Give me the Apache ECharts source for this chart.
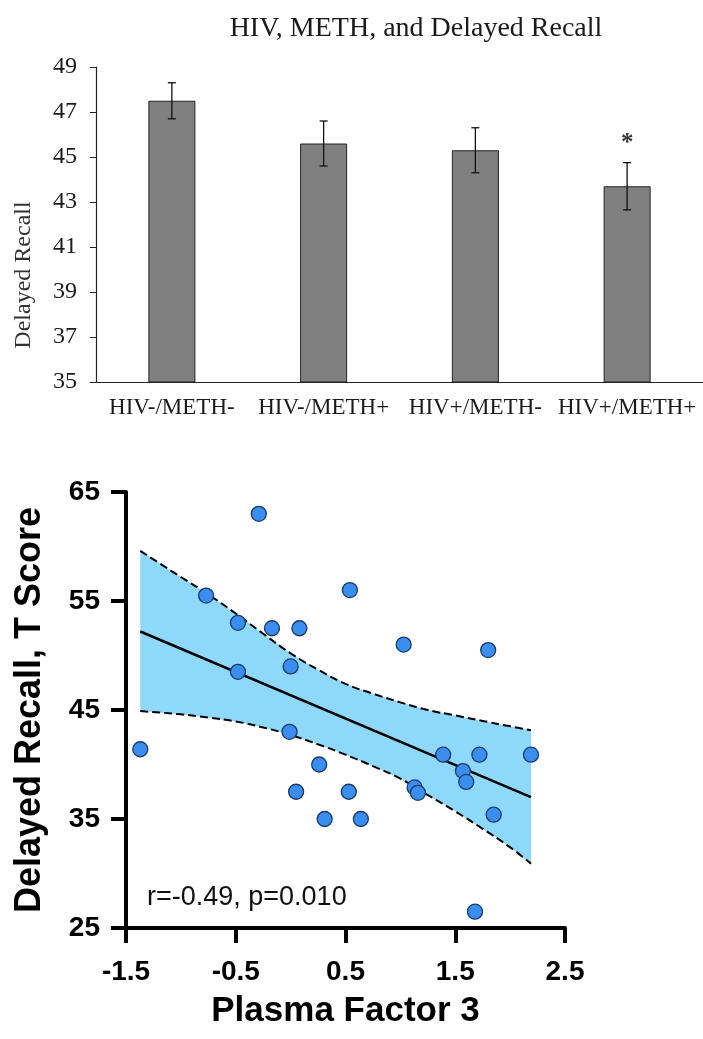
<!DOCTYPE html>
<html>
<head>
<meta charset="utf-8">
<script src="https://cdn.jsdelivr.net/npm/echarts@6/dist/echarts.min.js"></script>
<style>
  html, body { margin: 0; padding: 0; background: #fff; }
  #chart { width: 703px; height: 1039px; }
</style>
</head>
<body>
<div id="chart"></div>
<script>
// top panel: group means with error bars
const groups = ['HIV-/METH-', 'HIV-/METH+', 'HIV+/METH-', 'HIV+/METH+']
const recallMeans = [47.5, 45.6, 45.3, 43.7]
const recallErrors = [0.8, 1.0, 1.0, 1.05]
const sigMarks = ['', '', '', '*']
const topTicks = [35, 49, 2]

// bottom panel: scatter with regression fit and confidence band
const factor3 = [-1.37, -0.77, -0.48, -0.48, -0.29, -0.17, 0.0, -0.01, 0.08, 0.05, 0.26, 0.31, 0.53,
  0.54, 0.64, 1.03, 1.13, 1.16, 1.39, 1.57, 1.60, 1.68, 1.72, 1.80, 1.85, 2.19]
const tScores = [41.4, 55.5, 53.0, 48.5, 63.0, 52.5, 49.0, 43.0, 52.5, 37.5, 40.0, 35.0, 37.5,
  56.0, 35.0, 51.0, 37.9, 37.4, 40.9, 39.4, 38.4, 26.5, 40.9, 50.5, 35.4, 40.9]
const fitX = [-1.37, 2.19]
const fitY = [52.2, 37.0]
const bandX = [-1.37, -1.0, -0.75, -0.5, -0.25, 0, 0.25, 0.5, 0.75, 1.0, 1.25, 1.5, 1.75, 2.0, 2.19]
const bandUpper = [59.6, 57.2, 55.6, 53.85, 52.0, 50.2, 48.7, 47.4, 46.5, 45.7, 45.0, 44.5, 44.0, 43.5, 43.15]
const bandLower = [44.9, 44.6, 44.3, 43.95, 43.4, 42.7, 41.85, 40.9, 39.85, 38.7, 37.2, 35.7, 34.1, 32.4, 30.9]
const statText = 'r=-0.49, p=0.010'

const serif = 'Liberation Serif'
const sans = 'Liberation Sans'

const chart = echarts.init(document.getElementById('chart'))

const option = {
  animation: false,
  title: {
    text: 'HIV, METH, and Delayed Recall',
    left: 411,
    textAlign: 'center',
    top: 10,
    textStyle: { fontFamily: serif, fontSize: 28, fontWeight: 'normal', color: '#1a1a1a' }
  },
  graphic: [
    {
      type: 'text',
      x: 24,
      y: 275,
      rotation: Math.PI / 2,
      style: {
        text: 'Delayed Recall',
        font: '24px "Liberation Serif"',
        fill: '#333',
        textAlign: 'center',
        textVerticalAlign: 'middle'
      }
    },
    {
      type: 'text',
      x: 147,
      y: 898,
      style: {
        text: statText,
        font: '27px "Liberation Sans"',
        fill: '#111',
        textAlign: 'left',
        textVerticalAlign: 'middle'
      }
    }
  ],
  grid: [
    { left: 96, right: 0, top: 67, height: 315 },
    { left: 126, right: 138, top: 492, height: 436 }
  ],
  xAxis: [
    {
      gridIndex: 0,
      type: 'category',
      data: groups,
      axisTick: { show: false },
      axisLine: { lineStyle: { color: '#222', width: 1.2 } },
      axisLabel: { interval: 0, fontFamily: serif, fontSize: 23, color: '#1a1a1a', margin: 14 }
    },
    {
      gridIndex: 1,
      type: 'value',
      min: -1.5,
      max: 2.5,
      interval: 1,
      name: 'Plasma Factor 3',
      nameLocation: 'middle',
      nameGap: 66,
      nameTextStyle: { fontFamily: sans, fontSize: 35, fontWeight: 'bold', color: '#000' },
      splitLine: { show: false },
      axisLine: { onZero: false, lineStyle: { color: '#000', width: 4 } },
      axisTick: { length: 15, lineStyle: { color: '#000', width: 4 } },
      axisLabel: { fontFamily: sans, fontSize: 28, fontWeight: 'bold', color: '#000', margin: 30 }
    }
  ],
  yAxis: [
    {
      gridIndex: 0,
      type: 'value',
      min: topTicks[0],
      max: topTicks[1],
      interval: topTicks[2],
      splitLine: { show: false },
      axisLine: { show: true, lineStyle: { color: '#222', width: 1.2 } },
      axisTick: { show: true, length: 6, lineStyle: { color: '#222' } },
      axisLabel: { fontFamily: serif, fontSize: 24, color: '#1a1a1a', margin: 19 }
    },
    {
      gridIndex: 1,
      type: 'value',
      min: 25,
      max: 65,
      interval: 10,
      name: 'Delayed Recall, T Score',
      nameLocation: 'middle',
      nameGap: 78,
      nameTextStyle: { fontFamily: sans, fontSize: 36, fontWeight: 'bold', color: '#000' },
      splitLine: { show: false },
      axisLine: { show: true, onZero: false, lineStyle: { color: '#000', width: 4 } },
      axisTick: { show: true, length: 15, lineStyle: { color: '#000', width: 4 } },
      axisLabel: { fontFamily: sans, fontSize: 28, fontWeight: 'bold', color: '#000', margin: 26 }
    }
  ],
  series: [
    {
      type: 'bar',
      xAxisIndex: 0,
      yAxisIndex: 0,
      data: recallMeans,
      barWidth: 47,
      itemStyle: { color: '#808080', borderColor: '#222', borderWidth: 1 }
    },
    {
      type: 'custom',
      xAxisIndex: 0,
      yAxisIndex: 0,
      data: groups.map((g, i) => [i, recallMeans[i], recallErrors[i]]),
      encode: { x: 0, y: 1 },
      z: 5,
      renderItem: function (params, api) {
        const i = api.value(0)
        const m = api.value(1)
        const e = api.value(2)
        const hi = api.coord([i, m + e])
        const lo = api.coord([i, m - e])
        const cap = 4
        const st = { stroke: '#111', lineWidth: 1.3 }
        const children = [
          { type: 'line', shape: { x1: hi[0], y1: hi[1], x2: lo[0], y2: lo[1] }, style: st },
          { type: 'line', shape: { x1: hi[0] - cap, y1: hi[1], x2: hi[0] + cap, y2: hi[1] }, style: st },
          { type: 'line', shape: { x1: lo[0] - cap, y1: lo[1], x2: lo[0] + cap, y2: lo[1] }, style: st }
        ]
        if (sigMarks[i]) {
          children.push({
            type: 'text',
            style: {
              text: sigMarks[i],
              x: hi[0],
              y: hi[1] - 7,
              font: 'bold 25px "Liberation Serif"',
              fill: '#333',
              textAlign: 'center',
              textVerticalAlign: 'bottom'
            }
          })
        }
        return { type: 'group', children: children }
      }
    },
    {
      type: 'custom',
      xAxisIndex: 1,
      yAxisIndex: 1,
      data: [[bandX[0], bandLower[0]]],
      z: 1,
      silent: true,
      renderItem: function (params, api) {
        const top = bandX.map((x, i) => api.coord([x, bandUpper[i]]))
        const bot = bandX.map((x, i) => api.coord([x, bandLower[i]])).reverse()
        return {
          type: 'polygon',
          shape: { points: top.concat(bot) },
          style: { fill: '#8ed8fb' }
        }
      }
    },
    {
      type: 'line',
      xAxisIndex: 1,
      yAxisIndex: 1,
      data: bandX.map((x, i) => [x, bandUpper[i]]),
      symbol: 'none',
      smooth: true,
      z: 2,
      lineStyle: { color: '#000', width: 2, type: [8, 4] }
    },
    {
      type: 'line',
      xAxisIndex: 1,
      yAxisIndex: 1,
      data: bandX.map((x, i) => [x, bandLower[i]]),
      symbol: 'none',
      smooth: true,
      z: 2,
      lineStyle: { color: '#000', width: 2, type: [8, 4] }
    },
    {
      type: 'line',
      xAxisIndex: 1,
      yAxisIndex: 1,
      data: fitX.map((x, i) => [x, fitY[i]]),
      symbol: 'none',
      z: 3,
      lineStyle: { color: '#000', width: 2.5 }
    },
    {
      type: 'scatter',
      xAxisIndex: 1,
      yAxisIndex: 1,
      data: factor3.map((x, i) => [x, tScores[i]]),
      symbolSize: 15,
      z: 4,
      itemStyle: { color: '#3a8ef0', borderColor: '#1b3a66', borderWidth: 1.3, opacity: 1 }
    }
  ]
}

option && chart.setOption(option)

window.addEventListener('resize', function () {
  chart.resize()
})
</script>
</body>
</html>
